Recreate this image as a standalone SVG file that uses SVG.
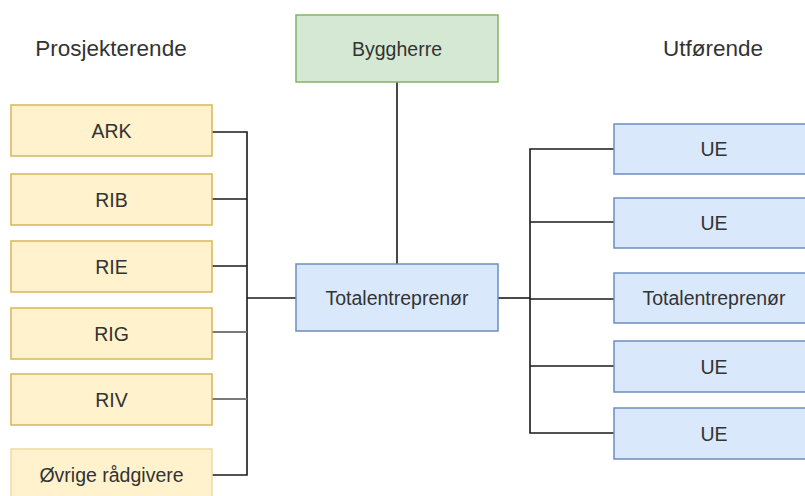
<svg xmlns="http://www.w3.org/2000/svg" width="805" height="496" viewBox="0 0 805 496">
  <style>
    .lbl { font-family: "Liberation Sans", Arial, sans-serif; font-size: 19.5px; fill: #333333; text-anchor: middle; }
    .title { font-family: "Liberation Sans", Arial, sans-serif; font-size: 22.5px; fill: #333333; text-anchor: middle; }
    .yellow { fill: #fff2cc; stroke: #d6b656; stroke-width: 1.5; }
    .yellow-light { fill: #fff2cc; stroke: #ecdca4; stroke-width: 1.5; }
    .green { fill: #d5e8d4; stroke: #82b366; stroke-width: 1.5; }
    .blue { fill: #dae8fc; stroke: #6c8ebf; stroke-width: 1.5; }
    .wire { fill: none; stroke: #1a1a1a; stroke-width: 1.6; }
    .wire-grey { fill: none; stroke: #7a7a7a; stroke-width: 2.2; }
  </style>
  <rect width="805" height="496" fill="#ffffff"/>

  <!-- column headings -->
  <text class="title" x="111" y="56">Prosjekterende</text>
  <text class="title" x="713" y="56">Utførende</text>

  <!-- connectors -->
  <g id="connectors">
    <!-- consultants bus -->
    <path class="wire" d="M212 132 H247 V475 H212"/>
    <path class="wire" d="M212 199 H247"/>
    <path class="wire" d="M212 266 H247"/>
    <path class="wire-grey" d="M212 332 H247"/>
    <path class="wire-grey" d="M212 399 H247"/>
    <path class="wire" d="M247 298 H296"/>
    <!-- client to contractor -->
    <path class="wire" d="M397 82 V264"/>
    <!-- contractor to executors bus -->
    <path class="wire" d="M498 298 H530"/>
    <path class="wire" d="M614 149 H530 V433 H614"/>
    <path class="wire" d="M530 222 H614"/>
    <path class="wire" d="M530 299 H614"/>
    <path class="wire" d="M530 366 H614"/>
  </g>

  <!-- consultants -->
  <g id="ark"><rect class="yellow" x="11" y="105" width="201" height="51"/><text class="lbl" x="111.5" y="137.5">ARK</text></g>
  <g id="rib"><rect class="yellow" x="11" y="174" width="201" height="51"/><text class="lbl" x="111.5" y="206.5">RIB</text></g>
  <g id="rie"><rect class="yellow" x="11" y="241" width="201" height="51"/><text class="lbl" x="111.5" y="273.5">RIE</text></g>
  <g id="rig"><rect class="yellow" x="11" y="308" width="201" height="51"/><text class="lbl" x="111.5" y="340.5">RIG</text></g>
  <g id="riv"><rect class="yellow" x="11" y="374" width="201" height="51"/><text class="lbl" x="111.5" y="406.5">RIV</text></g>
  <g id="ovrige"><rect class="yellow-light" x="11" y="449" width="201" height="52"/><text class="lbl" x="111.5" y="482">Øvrige rådgivere</text></g>

  <!-- client and main contractor -->
  <g id="byggherre"><rect class="green" x="296" y="15" width="202" height="67"/><text class="lbl" x="397" y="55.5">Byggherre</text></g>
  <g id="totalentreprenor"><rect class="blue" x="296" y="264" width="202" height="67"/><text class="lbl" x="397" y="304.5">Totalentreprenør</text></g>

  <!-- executors -->
  <g id="ue1"><rect class="blue" x="614" y="124" width="201" height="50"/><text class="lbl" x="714" y="156">UE</text></g>
  <g id="ue2"><rect class="blue" x="614" y="198" width="201" height="50"/><text class="lbl" x="714" y="230">UE</text></g>
  <g id="te2"><rect class="blue" x="614" y="273" width="201" height="50"/><text class="lbl" x="714" y="305">Totalentreprenør</text></g>
  <g id="ue3"><rect class="blue" x="614" y="341" width="201" height="51"/><text class="lbl" x="714" y="373.5">UE</text></g>
  <g id="ue4"><rect class="blue" x="614" y="408" width="201" height="51"/><text class="lbl" x="714" y="440.5">UE</text></g>
</svg>
